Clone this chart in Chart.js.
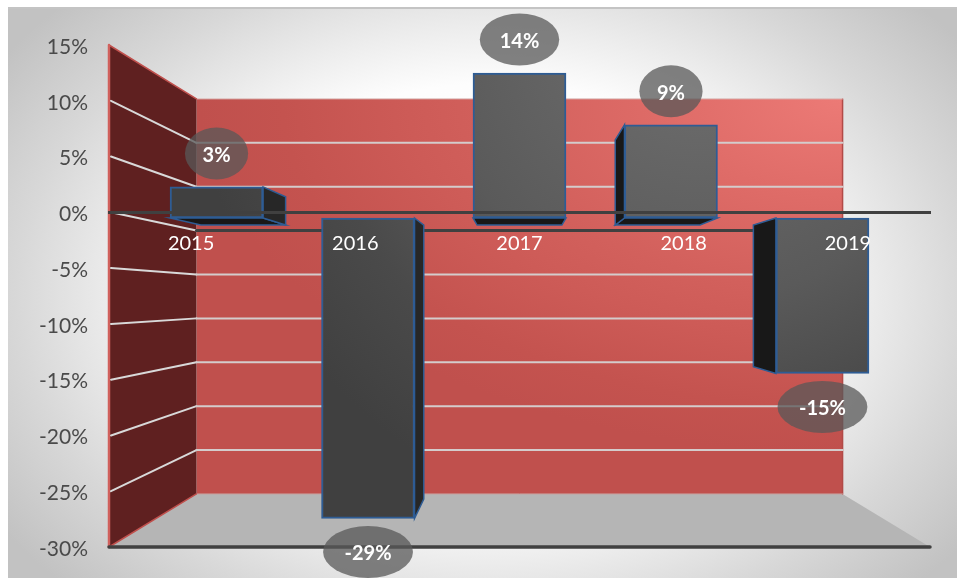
<!DOCTYPE html>
<html>
<head>
<meta charset="utf-8">
<title>Annual change</title>
<script src="https://cdn.jsdelivr.net/npm/chart.js@4"></script>
<style>
  html, body { margin: 0; padding: 0; background: #fff; }
  #panel {
    position: absolute; left: 8px; top: 7px; width: 949px; height: 571px;
    box-sizing: border-box; border-top: 2px solid #c4c4c4;
    background: radial-gradient(ellipse 590px 420px at 482px 285px, #ffffff 0%, #fdfdfd 50%, #ececec 64%, #d8d8d8 80%, #c2c2c2 100%);
  }
  #wrap { position: absolute; left: 0; top: 0; width: 957px; height: 578px; }
</style>
</head>
<body>
<div id="panel"></div>
<div id="wrap"><canvas id="growthChart" width="957" height="578"></canvas></div>
<script>
const categories = ["2015", "2016", "2017", "2018", "2019"];
const growthValues = [3, -29, 14, 9, -15];
const yTickValues = [15, 10, 5, 0, -5, -10, -15, -20, -25, -30];

// Perspective of the 3D box: planes shrink towards the vanishing point
const BACK_PLANE = 0.787;
const BAR_DEPTH = 0.912;
const VANISH_Y_SHARE = 0.504;

function vanishingPoint(area) {
  return { x: (area.left + area.right) / 2, y: area.top + area.height * VANISH_Y_SHARE };
}

function project(vp, x, y, scale) {
  return { x: vp.x + (x - vp.x) * scale, y: vp.y + (y - vp.y) * scale };
}

function polygon(ctx, points, fill, stroke, lineWidth) {
  ctx.beginPath();
  points.forEach((p, i) => (i ? ctx.lineTo(p.x, p.y) : ctx.moveTo(p.x, p.y)));
  ctx.closePath();
  if (fill) {
    ctx.fillStyle = fill;
    ctx.fill();
  }
  if (stroke) {
    ctx.strokeStyle = stroke;
    ctx.lineWidth = lineWidth;
    ctx.stroke();
  }
}

function line(ctx, a, b, color, width) {
  ctx.beginPath();
  ctx.moveTo(a.x, a.y);
  ctx.lineTo(b.x, b.y);
  ctx.strokeStyle = color;
  ctx.lineWidth = width;
  ctx.lineCap = "round";
  ctx.stroke();
}

function barGradient(context) {
  const ctx = context.chart.ctx;
  const g = ctx.createRadialGradient(700, 30, 0, 700, 30, 600);
  g.addColorStop(0, "#707070");
  g.addColorStop(0.45, "#5a5a5a");
  g.addColorStop(0.65, "#4a4a4a");
  g.addColorStop(0.85, "#404040");
  g.addColorStop(1, "#404040");
  return g;
}

// Walls, floor and gridlines behind the bars
const roomPlugin = {
  id: "room",
  beforeDatasetsDraw(chart) {
    const { ctx, chartArea: area, scales } = chart;
    const vp = vanishingPoint(area);
    const frontTL = { x: area.left, y: area.top };
    const frontBL = { x: area.left, y: area.bottom };
    const frontBR = { x: area.right, y: area.bottom };
    const backTL = project(vp, area.left, area.top, BACK_PLANE);
    const backBL = project(vp, area.left, area.bottom, BACK_PLANE);
    const backTR = project(vp, area.right, area.top, BACK_PLANE);
    const backBR = project(vp, area.right, area.bottom, BACK_PLANE);

    ctx.save();
    polygon(ctx, [frontBL, backBL, backBR, frontBR], "#b5b5b5");

    // back wall, brighter towards the upper right corner
    ctx.save();
    ctx.beginPath();
    ctx.rect(backTL.x, backTL.y, backTR.x - backTL.x, backBL.y - backTL.y);
    ctx.clip();
    ctx.translate(backTR.x, backTR.y);
    ctx.scale(1, 0.55);
    const wall = ctx.createRadialGradient(0, 0, 0, 0, 0, 700);
    wall.addColorStop(0, "#ec7a76");
    wall.addColorStop(0.25, "#df6c68");
    wall.addColorStop(0.5, "#d2605c");
    wall.addColorStop(0.62, "#cd5b57");
    wall.addColorStop(0.8, "#c4534f");
    wall.addColorStop(0.92, "#c0504d");
    wall.addColorStop(1, "#c0504d");
    ctx.fillStyle = wall;
    ctx.fillRect(-900, -100, 1000, 1000);
    ctx.restore();
    line(ctx, backTR, backBR, "#b24a47", 1.5);
    line(ctx, backTL, backTR, "#d9b3b0", 1);
    line(ctx, backBL, backBR, "#c9a09e", 1);

    polygon(ctx, [frontTL, backTL, backBL, frontBL], "#5f2020");
    line(ctx, frontTL, backTL, "#c0504d", 1.5);
    line(ctx, frontBL, backBL, "#c0504d", 1.5);
    line(ctx, frontTL, frontBL, "#d0605c", 2.5);

    yTickValues.slice(1, -1).forEach((value) => {
      const py = scales.y.getPixelForValue(value);
      const front = { x: area.left + 2, y: py };
      const backLeft = project(vp, area.left, py, BACK_PLANE);
      const backRight = project(vp, area.right, py, BACK_PLANE);
      line(ctx, front, backLeft, "#d9d9d9", 2);
      if (value === 0) {
        line(ctx, backLeft, backRight, "#404040", 3);
      } else {
        line(ctx, backLeft, backRight, "#d4cccc", 2);
      }
    });

    // depth faces of the bars
    const meta = chart.getDatasetMeta(0);
    meta.data.forEach((bar) => {
      const p = bar.getProps(["x", "y", "base", "width"], true);
      const left = p.x - p.width / 2;
      const right = p.x + p.width / 2;
      const top = Math.min(p.y, p.base);
      const bottom = Math.max(p.y, p.base);
      const edge = "#2e5c94";
      const at = (x, y) => ({ x, y });
      const back = (x, y) => project(vp, x, y, BAR_DEPTH);
      if (bottom < vp.y) {
        polygon(ctx, [at(left, bottom), at(right, bottom), back(right, bottom), back(left, bottom)], "#181818", edge, 1.5);
      }
      if (right < vp.x) {
        polygon(ctx, [at(right, top), back(right, top), back(right, bottom), at(right, bottom)], "#272727", edge, 1.5);
      } else if (left > vp.x) {
        polygon(ctx, [at(left, top), back(left, top), back(left, bottom), at(left, bottom)], "#181818", edge, 1.5);
      }
    });
    ctx.restore();
  },
  afterDraw(chart) {
    const { ctx, chartArea: area, scales } = chart;
    const bottomY = scales.y.getPixelForValue(yTickValues[yTickValues.length - 1]);
    ctx.save();
    line(ctx, { x: area.left, y: bottomY }, { x: area.right, y: bottomY }, "#404040", 3.5);

    // oval value labels sitting past the bar ends
    ctx.font = "bold 20px Lato";
    ctx.textAlign = "center";
    ctx.textBaseline = "middle";
    chart.getDatasetMeta(0).data.forEach((bar, i) => {
      const value = growthValues[i];
      const text = value + "%";
      const cy = value >= 0 ? bar.y - 33.5 : bar.y + 33.5;
      const rx = ctx.measureText(text).width * 0.7 + 12;
      ctx.beginPath();
      ctx.ellipse(bar.x, cy, rx, 26, 0, 0, Math.PI * 2);
      ctx.fillStyle = "rgba(88,88,88,0.75)";
      ctx.fill();
      ctx.fillStyle = "#ffffff";
      ctx.fillText(text, bar.x, cy + 2);
    });
    ctx.restore();
  },
};

new Chart(document.getElementById("growthChart"), {
  type: "bar",
  data: {
    labels: categories,
    datasets: [
      {
        data: growthValues.map((v, i) => ({ x: i, y: v })),
        xAxisID: "xBars",
        yAxisID: "yBars",
        backgroundColor: barGradient,
        borderColor: "#2e5c94",
        borderWidth: 2,
        borderSkipped: false,
        barThickness: 93,
      },
    ],
  },
  plugins: [roomPlugin],
  options: {
    responsive: false,
    animation: false,
    layout: { padding: { top: 45, right: 27, bottom: 31, left: 0 } },
    plugins: { legend: { display: false }, tooltip: { enabled: false } },
    scales: {
      y: {
        type: "linear",
        min: -30,
        max: 15,
        // fixed gutter, and no extra room reserved for the first and last labels
        afterFit: (scale) => {
          scale.width = 109;
          scale.paddingTop = 0;
          scale.paddingBottom = 0;
        },
        afterBuildTicks: (scale) => { scale.ticks = yTickValues.map((value) => ({ value })); },
        grid: { display: false, drawTicks: false },
        border: { display: false },
        ticks: {
          padding: 21,
          labelOffset: 2,
          color: "#4a4a4a",
          font: { family: "Lato", size: 21 },
          callback: (v) => v + "%",
        },
      },
      x: {
        type: "category",
        position: { y: 0 },
        afterFit: (scale) => { scale.height = 0; },
        grid: { display: false, drawTicks: false },
        border: { display: true, color: "#404040", width: 3, z: 1 },
        ticks: {
          z: 2,
          padding: 19,
          color: "#ffffff",
          maxRotation: 0,
          autoSkip: false,
          font: { family: "Lato", size: 20 },
        },
      },
      // bars stand a little behind the front plane, so they get their own smaller scales
      xBars: { type: "linear", display: false, offset: false, min: -0.71, max: 4.71 },
      yBars: { type: "linear", display: false, min: -31.76, max: 16.7 },
    },
  },
});
</script>
</body>
</html>
